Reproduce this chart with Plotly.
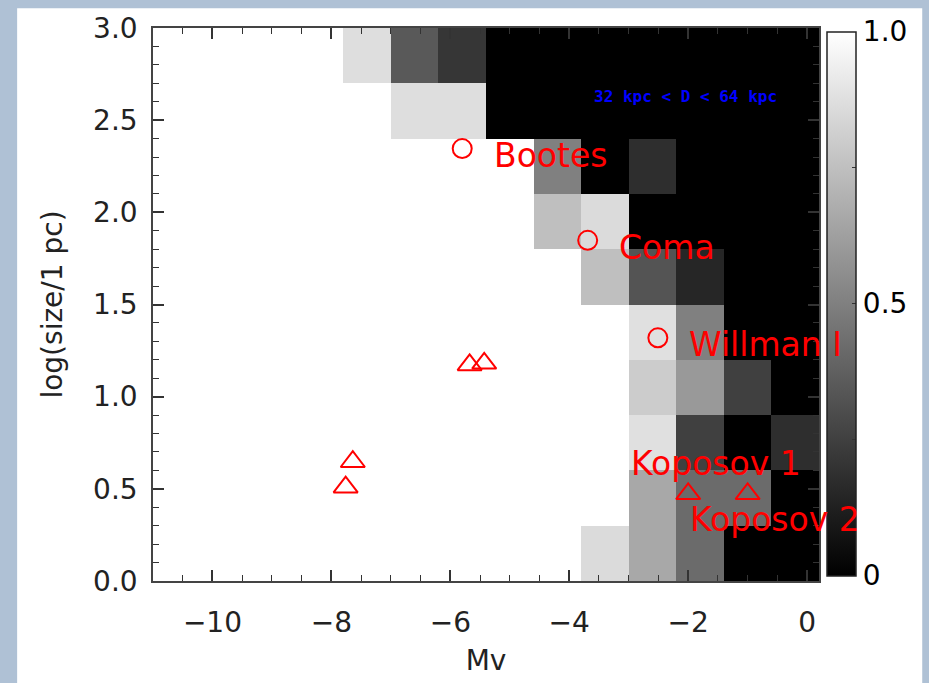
import plotly.graph_objects as go

# ---------------- data ----------------
mv_centers = [-10.6, -9.8, -9.0, -8.2, -7.4, -6.6, -5.8, -5.0, -4.2, -3.4, -2.6, -1.8, -1.0, -0.2]
logsize_centers = [0.15, 0.45, 0.75, 1.05, 1.35, 1.65, 1.95, 2.25, 2.55, 2.85]

# detection fraction, rows from log(size)=0.15 (bottom) to 2.85 (top)
frac = [
    [1, 1, 1, 1, 1, 1, 1, 1, 1, 0.86, 0.66, 0.42, 0.00, 0.00],
    [1, 1, 1, 1, 1, 1, 1, 1, 1, 1.00, 0.66, 0.42, 0.42, 0.00],
    [1, 1, 1, 1, 1, 1, 1, 1, 1, 1.00, 0.88, 0.25, 0.00, 0.18],
    [1, 1, 1, 1, 1, 1, 1, 1, 1, 1.00, 0.80, 0.60, 0.25, 0.00],
    [1, 1, 1, 1, 1, 1, 1, 1, 1, 1.00, 0.88, 0.50, 0.00, 0.00],
    [1, 1, 1, 1, 1, 1, 1, 1, 1, 0.75, 0.33, 0.15, 0.00, 0.00],
    [1, 1, 1, 1, 1, 1, 1, 1, 0.75, 0.86, 0.00, 0.00, 0.00, 0.00],
    [1, 1, 1, 1, 1, 1, 1, 1, 0.50, 0.00, 0.18, 0.00, 0.00, 0.00],
    [1, 1, 1, 1, 1, 0.87, 0.87, 0, 0, 0, 0, 0, 0, 0],
    [1, 1, 1, 1, 0.87, 0.35, 0.21, 0, 0, 0, 0, 0, 0, 0],
]

# dwarf galaxies (circles)
dwarf_names = ["Bootes", "Coma", "Willman I"]
dwarf_mv = [-5.80, -3.69, -2.51]
dwarf_logsize = [2.346, 1.848, 1.319]
dwarf_label_x = [-5.30, -3.19, -2.02]
dwarf_label_y = [2.31, 1.808, 1.284]

# star clusters (triangles)
cluster_mv = [-5.675, -5.43, -7.64, -7.76, -2.00, -1.00]
cluster_logsize = [1.172, 1.181, 0.647, 0.509, 0.473, 0.473]

cluster_names = ["Koposov 1", "Koposov 2"]
cluster_label_x = [-2.99, -2.00]
cluster_label_y = [0.639, 0.334]

dist_text = "32 kpc < D < 64 kpc"
dist_x, dist_y = -3.61, 2.628

cbar_vals = [0, 0.25, 0.5, 0.75, 1.0]
cbar_text = ["0", "", "0.5", "", "1.0"]

# ---------------- figure ----------------
FONT = "DejaVu Sans"
fig = go.Figure()

fig.add_trace(go.Heatmap(
    x=mv_centers, y=logsize_centers, z=frac,
    colorscale=[[0, "#000000"], [1, "#ffffff"]], zmin=0, zmax=1,
    hoverinfo="skip",
    colorbar=dict(
        x=1.012, xanchor="left", y=0.5018, yanchor="middle",
        thicknessmode="pixels", thickness=29,
        lenmode="pixels", len=544,
        xpad=0, ypad=0,
        outlinewidth=1.5, outlinecolor="#222222",
        tickmode="array", tickvals=cbar_vals, ticktext=cbar_text,
        ticks="inside", ticklen=4, tickcolor="#333333", tickwidth=1,
        tickfont=dict(family=FONT, size=28, color="#000000"),
    ),
))

fig.add_trace(go.Scatter(
    x=dwarf_mv, y=dwarf_logsize, mode="markers",
    marker=dict(symbol="circle-open", size=19, color="#ff0000", line=dict(width=2, color="#ff0000")),
    showlegend=False, hoverinfo="skip", cliponaxis=False,
))
fig.add_trace(go.Scatter(
    x=cluster_mv, y=cluster_logsize, mode="markers",
    marker=dict(symbol="triangle-up-open", size=21, color="#ff0000", line=dict(width=2, color="#ff0000")),
    showlegend=False, hoverinfo="skip", cliponaxis=False,
))

annotations = []
for name, lx, ly in zip(dwarf_names + cluster_names, dwarf_label_x + cluster_label_x, dwarf_label_y + cluster_label_y):
    annotations.append(dict(
        x=lx, y=ly, xref="x", yref="y", text=name, showarrow=False,
        xanchor="left", yanchor="middle",
        font=dict(family=FONT, size=33, color="#ff0000"),
    ))
annotations.append(dict(
    x=dist_x, y=dist_y, xref="x", yref="y", text="<b>" + dist_text + "</b>", showarrow=False,
    xanchor="left", yanchor="middle",
    font=dict(family="DejaVu Sans Mono", size=16, color="#0000ff"),
))

axis_common = dict(
    showgrid=False, zeroline=False,
    showline=True, linecolor="#444444", linewidth=1.5, mirror="ticks",
    ticks="inside", ticklen=11, tickwidth=1.5, tickcolor="#333333",
    tickfont=dict(family=FONT, size=28, color="#222222"),
)

fig.update_layout(
    width=929, height=683,
    margin=dict(l=153, r=110, t=25, b=100),
    paper_bgcolor="#AFC1D5",
    plot_bgcolor="#ffffff",
    showlegend=False,
    annotations=annotations,
    shapes=[dict(type="rect", xref="paper", yref="paper",
                 x0=-0.204, x1=1.155, y0=-0.2, y1=1.0358,
                 fillcolor="#ffffff", line=dict(width=0), layer="below")],
    xaxis=dict(
        range=[-11, 0.2], tick0=0, dtick=2,
        minor=dict(tick0=0, dtick=0.5, ticks="inside", ticklen=6, tickcolor="#333333", tickwidth=1),
        ticklabelstandoff=16,
        title=dict(text="Mv", font=dict(family=FONT, size=28, color="#222222"), standoff=12),
        **axis_common,
    ),
    yaxis=dict(
        range=[0, 3], tick0=0, dtick=0.5, tickformat=".1f",
        minor=dict(tick0=0, dtick=0.1, ticks="inside", ticklen=6, tickcolor="#333333", tickwidth=1),
        ticklabelstandoff=8,
        title=dict(text="log(size/1 pc)", font=dict(family=FONT, size=28, color="#222222"), standoff=22),
        **axis_common,
    ),
)

fig.write_html("out.html")
